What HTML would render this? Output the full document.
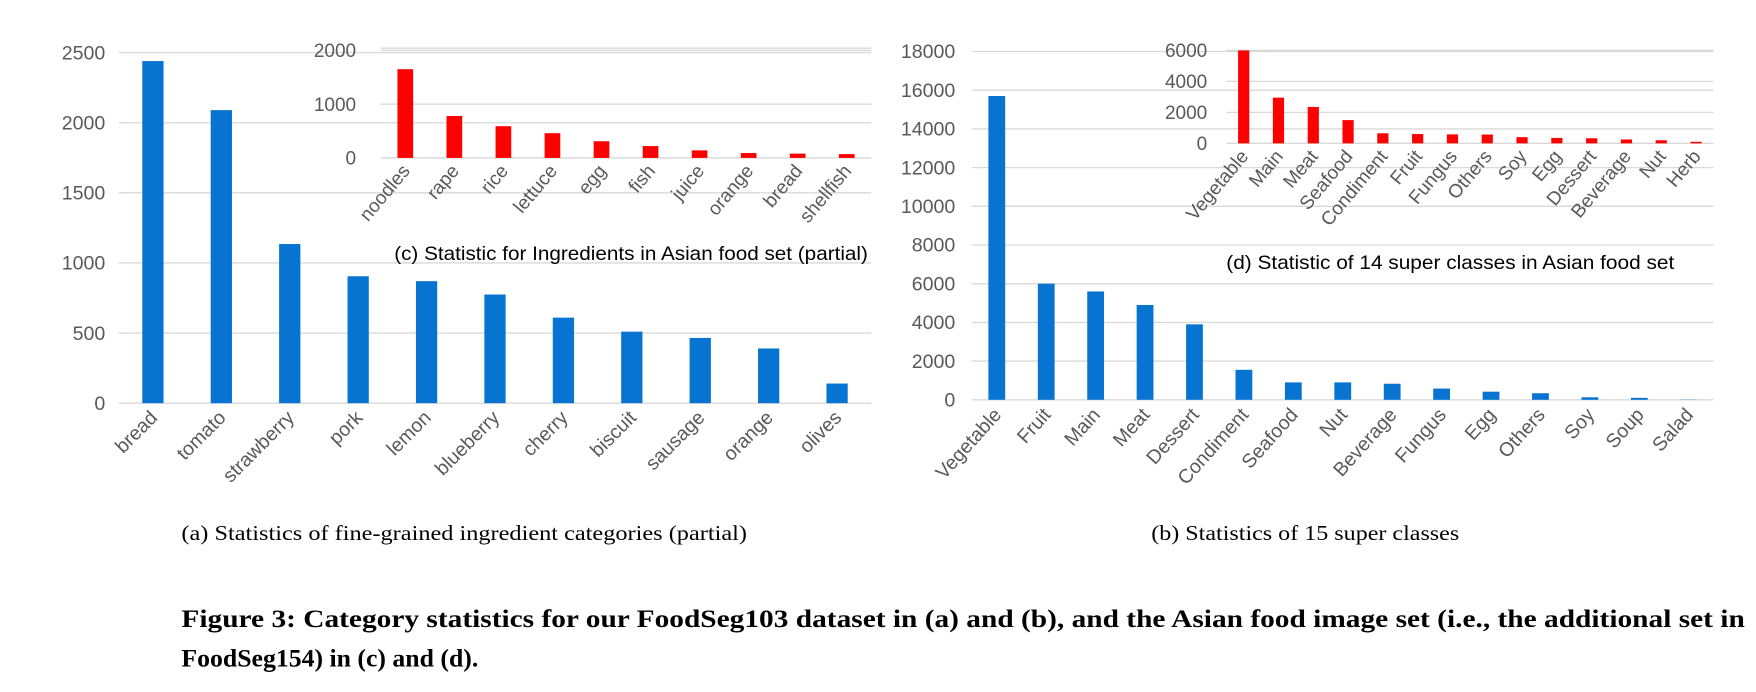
<!DOCTYPE html>
<html><head><meta charset="utf-8"><style>
body{margin:0;background:#fff;width:1756px;height:692px;overflow:hidden}
svg{display:block}
.tk{font-family:"Liberation Sans",sans-serif;fill:#595959}
.ttl{font-family:"Liberation Sans",sans-serif;font-size:17px;fill:#000}
.cap{font-family:"Liberation Serif",serif;font-size:19px;fill:#000}
.fig{font-family:"Liberation Serif",serif;font-size:23px;font-weight:bold;fill:#000}
</style></head><body>
<svg width="1756" height="692">
<g id="s" transform="scale(1.1199)"></g>
</svg>
<script>
const catsA=["bread","tomato","strawberry","pork","lemon","blueberry","cherry","biscuit","sausage","orange","olives"];
const valsA=[2440,2090,1135,905,870,775,610,510,465,390,140];
const ticksA=[0,500,1000,1500,2000,2500];
const catsC=["noodles","rape","rice","lettuce","egg","fish","juice","orange","bread","shellfish"];
const valsC=[1650,780,590,460,310,220,140,90,80,70];
const ticksC=[0,1000,2000];
const catsB=["Vegetable","Fruit","Main","Meat","Dessert","Condiment","Seafood","Nut","Beverage","Fungus","Egg","Others","Soy","Soup","Salad"];
const valsB=[15700,6000,5600,4900,3900,1550,900,900,830,580,420,340,130,100,10];
const ticksB=[0,2000,4000,6000,8000,10000,12000,14000,16000,18000];
const catsD=["Vegetable","Main","Meat","Seafood","Condiment","Fruit","Fungus","Others","Soy","Egg","Dessert","Beverage","Nut","Herb"];
const valsD=[6000,2950,2350,1500,650,600,580,570,400,350,330,250,200,100];
const ticksD=[0,2000,4000,6000];
const S=document.getElementById('s');const NS="http://www.w3.org/2000/svg";
function mk(t,a){const e=document.createElementNS(NS,t);for(const k in a)e.setAttribute(k,a[k]);S.appendChild(e);return e;}
function chart(id,cats,vals,ticks,x0,x1,y0,y1,max,bw,color,fs,labX,labOff,ang){
  const step=(x1-x0)/cats.length;
  const y=v=>y0-(v/max)*(y0-y1);
  ticks.forEach(t=>{
    const l=mk('line',{x1:x0,x2:x1,y1:y(t),y2:y(t),stroke:'#d9d9d9','stroke-width':1.2});
    
    
    const tx=mk('text',{x:labX,y:y(t)+6,'text-anchor':'end',class:'tk','font-size':fs});
    
    
    tx.textContent=t;
  });
  cats.forEach((c,i)=>{
    const cx=x0+step*(i+0.5);
    const r=mk('rect',{x:cx-bw/2,y:y(vals[i]),width:bw,height:y0-y(vals[i]),fill:color});
    
    
    const lx=cx+5,ly=y0+labOff;
    const tx=mk('text',{x:lx,y:ly,'text-anchor':'end',class:'tk','font-size':fs,transform:`rotate(${ang} ${lx} ${ly})`});
    
    
    tx.textContent=c;
  });
}
chart('chart-a',catsA,valsA,ticksA,106,778,360,47,2500,19,'#0874d1',17.5,94,14,-45);
chart('chart-b',catsB,valsB,ticksB,868,1530,357,46,18000,15,'#0874d1',17.5,853,14,-48);
chart('chart-c',catsC,valsC,ticksC,340,778,141,45,2000,14,'#ff0000',17,318,12,-50);
const dbl=mk('line',{x1:340,x2:778,y1:43,y2:43,stroke:'#d9d9d9','stroke-width':1.2});


chart('chart-d',catsD,valsD,ticksD,1095,1530,128,45,6000,10,'#ff0000',17,1078,12,-50);
function txt(cls,x,y,len,s,name){
  const a={class:cls,x:x,y:y};
  if(len){a.textLength=len;a.lengthAdjust='spacingAndGlyphs';}
  const t=mk('text',a);
  
  
  t.textContent=s;
}
txt('ttl',352,232,423,'(c) Statistic for Ingredients in Asian food set (partial)','chart-c-title');
txt('ttl',1095,240,400,'(d) Statistic of 14 super classes in Asian food set','chart-d-title');
txt('cap',162,482,505,'(a)  Statistics of fine-grained ingredient categories (partial)','caption-a');
txt('cap',1028,482,275,'(b)  Statistics of 15 super classes','caption-b');
txt('fig',162,560,1396,'Figure 3: Category statistics for our FoodSeg103 dataset in (a) and (b), and the Asian food image set (i.e., the additional set in','figure-caption-line1');
txt('fig',162,595,0,'FoodSeg154) in (c) and (d).','figure-caption-line2');
</script>
</body></html>
